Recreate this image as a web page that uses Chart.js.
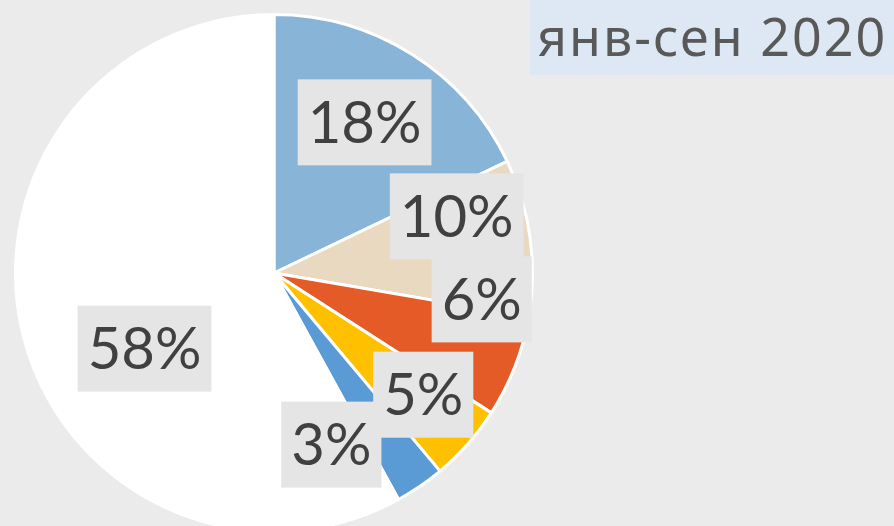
<!DOCTYPE html>
<html lang="ru">
<head>
  <meta charset="UTF-8">
  <title>янв-сен 2020</title>
  <script src="https://cdn.jsdelivr.net/npm/chart.js@4"></script>
  <style>
    html, body {
      margin: 0;
      padding: 0;
      background: #ebebeb;
    }
    .frame {
      position: relative;
      width: 894px;
      height: 526px;
      overflow: hidden;
      background: #ebebeb;
    }
    .chart-box {
      position: absolute;
      left: 0;
      top: 0;
      width: 894px;
      height: 547px;
    }
    .period {
      position: absolute;
      left: 530px;
      top: 0;
      width: 364px;
      height: 75px;
      background: #dee8f4;
      color: #595959;
      font-family: 'Noto Sans', sans-serif;
      font-size: 52px;
      letter-spacing: 2px;
      line-height: 72px;
      padding-left: 7px;
      box-sizing: border-box;
      white-space: nowrap;
    }
  </style>
</head>
<body>
  <div class="frame">
    <div class="chart-box"><canvas id="pie"></canvas></div>
    <div class="period">янв-сен 2020</div>
  </div>

  <script>
    // доли, % (читаются с картинки)
    const categories = ['A', 'B', 'C', 'D', 'E', 'Прочие'];
    const shares = [17.9, 9.8, 6.4, 4.8, 3.1, 58.0];
    const sliceColors = ['#88b4d8', '#ead9c1', '#e55b27', '#ffc000', '#5b9bd5', '#ffffff'];

    // сдвиг подписей: [поворот от середины сектора в градусах, доля радиуса]
    const labelShift = [[-1.2, 0.68], [-9.3, 0.74], [-14, 0.81], [-2.2, 0.745], [15.9, 0.70], [-15.9, 0.58]];

    const boxLabels = {
      id: 'boxLabels',
      afterDatasetsDraw(chart) {
        const ctx = chart.ctx;
        const meta = chart.getDatasetMeta(0);
        const data = chart.data.datasets[0].data;
        const total = data.reduce((a, b) => a + b, 0);
        ctx.save();
        ctx.font = '58px Lato, sans-serif';
        ctx.textAlign = 'center';
        ctx.textBaseline = 'middle';
        meta.data.forEach((arc, i) => {
          const p = arc.getProps(['x', 'y', 'startAngle', 'endAngle', 'outerRadius'], true);
          const mid = (p.startAngle + p.endAngle) / 2 + labelShift[i][0] * Math.PI / 180;
          const r = p.outerRadius * labelShift[i][1];
          const x = p.x + Math.cos(mid) * r;
          const y = p.y + Math.sin(mid) * r;
          const txt = Math.round(data[i] / total * 100) + '%';
          const w = ctx.measureText(txt).width + 20;
          const h = 86;
          ctx.fillStyle = '#e5e5e5';
          ctx.fillRect(x - w / 2, y - h / 2, w, h);
          ctx.fillStyle = '#404040';
          ctx.fillText(txt, x, y + 2);
        });
        ctx.restore();
      }
    };

    new Chart(document.getElementById('pie'), {
      type: 'pie',
      data: {
        labels: categories,
        datasets: [{
          data: shares,
          backgroundColor: sliceColors,
          borderColor: '#ffffff',
          borderWidth: 3
        }]
      },
      options: {
        responsive: true,
        maintainAspectRatio: false,
        animation: false,
        layout: {
          padding: { top: 13, bottom: 14, left: 14, right: 360 }
        },
        plugins: {
          legend: { display: false },
          tooltip: { enabled: false }
        }
      },
      plugins: [boxLabels]
    });
  </script>
</body>
</html>
